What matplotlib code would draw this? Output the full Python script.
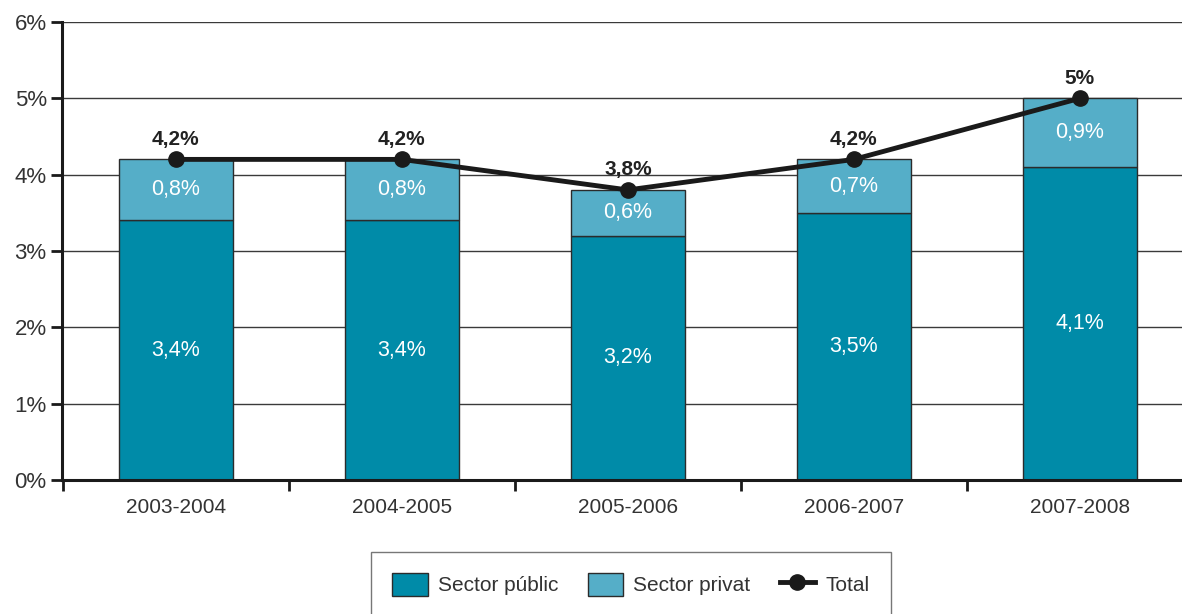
import matplotlib
matplotlib.use("Agg")
from matplotlib import pyplot as plt
from matplotlib.lines import Line2D
from matplotlib.patches import Patch
import numpy as np

# dades
cursos = ["2003-2004", "2004-2005", "2005-2006", "2006-2007", "2007-2008"]
public = [3.4, 3.4, 3.2, 3.5, 4.1]
privat = [0.8, 0.8, 0.6, 0.7, 0.9]
total = [4.2, 4.2, 3.8, 4.2, 5.0]
etiq_total = ["4,2%", "4,2%", "3,8%", "4,2%", "5%"]

c_public = "#008ba8"
c_privat = "#55aec8"
gris = "#333333"

plt.rcParams["font.family"] = ["Liberation Sans", "DejaVu Sans"]

fig = plt.figure(figsize=(11.82, 6.14), dpi=100)
ax = fig.add_axes([62/1182, 1-480/614, 1-62/1182, (480-22)/614])

x = np.arange(len(cursos))
ax.bar(x, public, width=0.505, color=c_public, edgecolor="#2b2b2b", linewidth=1, zorder=2)
ax.bar(x, privat, width=0.505, bottom=public, color=c_privat, edgecolor="#2b2b2b", linewidth=1, zorder=2)
ax.plot(x, total, color="#1a1a1a", linewidth=3.5, marker="o", markersize=11, zorder=4)

for i in range(len(cursos)):
    ax.text(x[i], public[i]/2, f"{public[i]:.1f}%".replace(".", ","), color="white",
            ha="center", va="center", fontsize=15.5, zorder=5)
    ax.text(x[i], public[i] + privat[i]/2, f"{privat[i]:.1f}%".replace(".", ","), color="white",
            ha="center", va="center", fontsize=15.5, zorder=5)
    ax.text(x[i], total[i] + 0.14, etiq_total[i], color="#222222", ha="center", va="bottom",
            fontsize=15, fontweight="bold", zorder=5)

ax.set_ylim(0, 6)
ax.set_yticks(range(7))
ax.set_yticklabels([f"{v}%" for v in range(7)], fontsize=16, color=gris)
ax.grid(axis="y", color="#3a3a3a", linewidth=1, zorder=0)
ax.set_axisbelow(True)

# ticks de l'eix x als límits de categoria
ax.set_xticks(np.arange(-0.5, 5, 1))
ax.set_xticklabels([])
ax.set_xticks(x, minor=True)
ax.set_xticklabels(cursos, minor=True, fontsize=15, color=gris)
ax.set_xlim(-0.504, 4.452)
ax.tick_params(axis="x", which="minor", length=0, pad=13)
ax.tick_params(axis="x", which="major", length=8, width=2, color="#1a1a1a", direction="out")
ax.tick_params(axis="y", length=8, width=2, color="#1a1a1a", pad=3)

for s in ["top", "right"]:
    ax.spines[s].set_visible(False)
for s in ["left", "bottom"]:
    ax.spines[s].set_linewidth(2.2)
    ax.spines[s].set_color("#1a1a1a")

handles = [
    Patch(facecolor=c_public, edgecolor="#2b2b2b", label="Sector públic"),
    Patch(facecolor=c_privat, edgecolor="#2b2b2b", label="Sector privat"),
    Line2D([0], [0], color="#1a1a1a", linewidth=3.5, marker="o", markersize=11, label="Total"),
]
leg = fig.legend(handles=handles, loc="upper center", bbox_to_anchor=(631/1182, 1-552/614),
                 ncol=3, fontsize=15, frameon=True, fancybox=False, borderpad=1.0,
                 borderaxespad=0, handlelength=1.7, handleheight=1.3, columnspacing=1.4,
                 handletextpad=0.5)
leg.get_frame().set_edgecolor("#555555")
leg.get_frame().set_linewidth(1)
for t in leg.get_texts():
    t.set_color(gris)

fig.savefig("out.png", dpi=100)
